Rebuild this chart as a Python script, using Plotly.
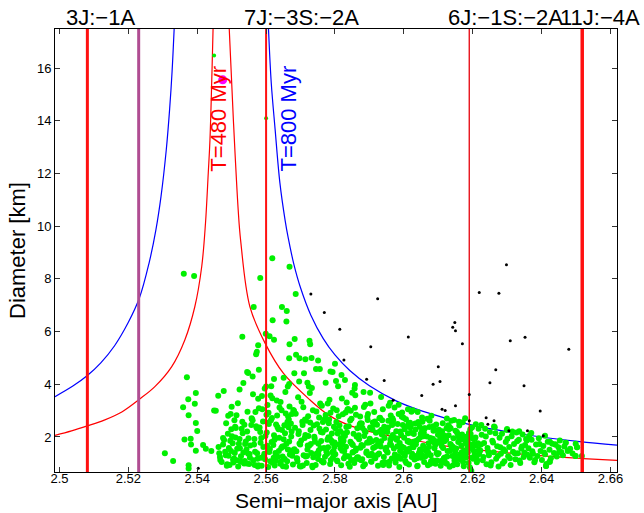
import plotly.graph_objects as go

# ---------------- axis ranges / ticks ----------------
x_range = [2.4987, 2.6619]
y_range = [0.67, 17.48]
x_ticks = [2.50, 2.52, 2.54, 2.56, 2.58, 2.60, 2.62, 2.64, 2.66]
x_tick_labels = ["2.5", "2.52", "2.54", "2.56", "2.58", "2.6", "2.62", "2.64", "2.66"]
y_ticks = [2, 4, 6, 8, 10, 12, 14, 16]
y_tick_labels = ["2", "4", "6", "8", "10", "12", "14", "16"]

# ---------------- resonances ----------------
res_a = [2.5081, 2.5230, 2.5600, 2.6190, 2.6518]
res_labels = ["3J:\u22121A", "", "7J:\u22123S:\u22122A", "6J:\u22121S:\u22122A", "11J:\u22124A"]
res_colors = ["#ff1010", "#b04d92", "#ff1010", "#e8141c", "#ff1010"]
res_widths = [3, 3, 2, 1.4, 3.5]

# ---------------- Yarkovsky curves ----------------
red_left_a = [2.4987, 2.5035, 2.5081, 2.5130, 2.5181, 2.5232, 2.5277, 2.5326, 2.5364,
              2.5393, 2.5413, 2.5424, 2.5432, 2.5437, 2.5446]
red_left_d = [2.06, 2.23, 2.42, 2.64, 2.95, 3.43, 3.91, 4.67, 5.68,
              6.94, 8.46, 10.11, 12.0, 13.27, 17.48]
red_right_a = [2.5493, 2.5505, 2.5519, 2.5526, 2.5553, 2.5597, 2.5650, 2.5727, 2.5785,
               2.5850, 2.5930, 2.6000, 2.6124, 2.6221, 2.6415, 2.6521, 2.6619]
red_right_d = [17.48, 14.03, 10.61, 9.47, 6.94, 5.56, 4.42, 3.41, 2.80,
               2.40, 2.12, 1.95, 1.65, 1.50, 1.27, 1.18, 1.11]
blue_left_a = [2.4987, 2.5040, 2.5081, 2.5120, 2.5160, 2.5200, 2.5232, 2.5260, 2.5280,
               2.5295, 2.5310, 2.5320, 2.5327, 2.5333]
blue_left_d = [3.53, 3.94, 4.33, 4.81, 5.46, 6.35, 7.27, 8.59, 9.86,
               11.14, 12.88, 14.46, 15.87, 17.48]
blue_right_a = [2.5607, 2.5615, 2.5626, 2.5640, 2.5655, 2.5664, 2.5680, 2.5700, 2.5730,
                2.5766, 2.5800, 2.5843, 2.5900, 2.5979, 2.6056, 2.6192, 2.6318, 2.6420,
                2.6511, 2.6619]
blue_right_d = [17.48, 15.43, 13.70, 11.65, 10.24, 9.57, 8.59, 7.66, 6.62,
                5.73, 5.11, 4.52, 3.94, 3.36, 2.97, 2.47, 2.16, 1.96,
                1.82, 1.69]

curve_labels = ["T=480 Myr", "T=800 Myr"]
curve_label_a = [2.5461, 2.5664]
curve_label_d = [12.0, 12.0]

# ---------------- family members (green) ----------------
green_a_sparse = [2.5361, 2.5391, 2.5370, 2.5396, 2.5374, 2.5359, 2.5393, 2.5375, 2.5396, 2.5400,
                  2.5363, 2.5381, 2.5382, 2.5396, 2.5417, 2.5425, 2.5441, 2.5449, 2.5306, 2.5330,
                  2.5375, 2.5375, 2.5618, 2.5668, 2.5583, 2.5686, 2.5564, 2.5646, 2.5660, 2.5619,
                  2.5659, 2.5599, 2.5610, 2.5623, 2.5531, 2.5683, 2.5726, 2.5728, 2.5577, 2.5668,
                  2.5573, 2.5571, 2.5687, 2.5697, 2.5667, 2.5714, 2.5732, 2.5751, 2.5800, 2.5579,
                  2.5545, 2.5548, 2.5756, 2.5745, 2.5710, 2.5793, 2.5561, 2.5623, 2.5651, 2.5682,
                  2.5667, 2.5663, 2.5696, 2.5720, 2.5724, 2.5773, 2.5600, 2.5523, 2.5461, 2.5477,
                  2.5534, 2.5500, 2.5454, 2.5490, 2.5514, 2.5510, 2.5475, 2.5464, 2.5467, 2.5787,
                  2.5829, 2.5858, 2.5902, 2.5934, 2.5960, 2.5985, 2.6012, 2.6040, 2.6080, 2.6125,
                  2.6160, 2.6225, 2.6262, 2.6300, 2.6335, 2.6370, 2.6410, 2.6424, 2.6470, 2.6499,
                  2.6503, 2.6476, 2.6498, 2.6413, 2.6423, 2.6440]
green_d_sparse = [8.19, 8.11, 4.27, 3.67, 3.43, 3.13, 3.26, 2.82, 2.53, 2.23,
                  1.90, 1.93, 1.71, 1.48, 1.69, 1.55, 1.47, 3.00, 1.38, 1.09,
                  0.93, 0.80, 8.78, 8.46, 8.03, 7.42, 6.93, 6.93, 6.78, 6.43,
                  6.38, 5.92, 5.82, 5.69, 5.80, 5.72, 5.65, 5.52, 5.48, 5.52,
                  5.23, 5.14, 5.12, 4.99, 4.99, 4.95, 5.00, 4.90, 4.78, 4.55,
                  4.46, 4.43, 4.58, 4.58, 4.42, 4.46, 4.29, 4.20, 4.25, 4.42,
                  4.01, 3.91, 4.10, 4.06, 3.91, 4.06, 3.91, 3.80, 3.56, 3.74,
                  4.05, 3.15, 2.99, 2.80, 2.82, 2.39, 1.96, 1.38, 1.13, 4.48,
                  4.16, 3.97, 3.68, 3.52, 3.30, 3.22, 3.05, 2.95, 2.80, 2.70,
                  2.58, 2.45, 2.40, 2.30, 2.22, 2.15, 2.05, 1.82, 1.78, 1.74,
                  1.61, 1.48, 1.28, 0.90, 1.06, 1.71]

green_a_band1 = [2.5462, 2.5471, 2.5478, 2.5483, 2.5489, 2.5494, 2.5498, 2.5503, 2.5507, 2.5512,
                 2.5516, 2.5519, 2.5523, 2.5527, 2.5531, 2.5534, 2.5538, 2.5541, 2.5545, 2.5548,
                 2.5551, 2.5554, 2.5557, 2.5466, 2.5475, 2.5486, 2.5492, 2.5501, 2.5509, 2.5515,
                 2.5521, 2.5529, 2.5536, 2.5543, 2.5549, 2.5553, 2.5559, 2.5481, 2.5496, 2.5505]
green_d_band1 = [1.62, 1.05, 1.88, 1.31, 2.12, 0.94, 1.47, 1.76, 1.18, 2.34,
                 1.55, 0.88, 1.92, 1.27, 2.58, 1.41, 1.09, 1.83, 2.21, 1.36,
                 0.97, 1.68, 2.45, 1.24, 1.71, 0.91, 1.58, 2.03, 1.39, 1.12,
                 1.74, 2.31, 0.99, 1.52, 1.95, 1.21, 2.67, 1.44, 1.86, 1.03]

green_a_band2 = [2.5563, 2.5571, 2.5578, 2.5584, 2.5589, 2.5595, 2.5602, 2.5606, 2.5611, 2.5617,
                 2.5622, 2.5626, 2.5631, 2.5637, 2.5641, 2.5646, 2.5652, 2.5657, 2.5661, 2.5667,
                 2.5672, 2.5676, 2.5565, 2.5569, 2.5575, 2.5581, 2.5587, 2.5592, 2.5598, 2.5604,
                 2.5609, 2.5614, 2.5619, 2.5624, 2.5629, 2.5634, 2.5639, 2.5644, 2.5649, 2.5655,
                 2.5659, 2.5664, 2.5669, 2.5674, 2.5678, 2.5561, 2.5574, 2.5586, 2.5597, 2.5608,
                 2.5613, 2.5621, 2.5633, 2.5643, 2.5651, 2.5662, 2.5671, 2.5679, 2.5567, 2.5583,
                 2.5593, 2.5601, 2.5616, 2.5628, 2.5636, 2.5647, 2.5658, 2.5666, 2.5677, 2.5577]
green_d_band2 = [1.12, 2.41, 0.93, 1.78, 3.05, 1.36, 2.17, 0.86, 1.54, 2.72,
                 1.21, 1.93, 3.38, 1.47, 0.98, 2.26, 1.65, 2.89, 1.08, 1.83,
                 2.51, 1.29, 1.71, 2.95, 1.17, 2.36, 0.91, 1.62, 2.04, 3.21,
                 1.43, 2.63, 1.02, 1.88, 2.47, 1.25, 3.12, 1.58, 0.89, 2.14,
                 1.74, 2.78, 1.33, 2.21, 0.95, 2.63, 1.38, 1.96, 1.15, 2.49,
                 3.57, 1.69, 2.38, 1.06, 1.91, 2.57, 1.49, 3.02, 0.94, 2.19,
                 1.27, 2.84, 1.81, 1.11, 2.29, 1.64, 0.87, 2.66, 1.41, 3.45]

green_a_band3 = [2.5682, 2.5686, 2.5691, 2.5695, 2.5699, 2.5703, 2.5707, 2.5712, 2.5716, 2.5719,
                 2.5723, 2.5727, 2.5731, 2.5735, 2.5738, 2.5742, 2.5746, 2.5751, 2.5755, 2.5758,
                 2.5762, 2.5766, 2.5771, 2.5775, 2.5778, 2.5782, 2.5786, 2.5791, 2.5795, 2.5798,
                 2.5684, 2.5689, 2.5693, 2.5697, 2.5701, 2.5705, 2.5709, 2.5714, 2.5718, 2.5722,
                 2.5725, 2.5729, 2.5733, 2.5737, 2.5741, 2.5744, 2.5748, 2.5753, 2.5757, 2.5761,
                 2.5764, 2.5768, 2.5773, 2.5777, 2.5781, 2.5784, 2.5788, 2.5793, 2.5797, 2.5681,
                 2.5688, 2.5694, 2.5702, 2.5708, 2.5715, 2.5721, 2.5728, 2.5734, 2.5740, 2.5747,
                 2.5754, 2.5760, 2.5767, 2.5774, 2.5780, 2.5787, 2.5794, 2.5799, 2.5690, 2.5706,
                 2.5720, 2.5736, 2.5752, 2.5769, 2.5785, 2.5698, 2.5730, 2.5763, 2.5792, 2.5713]
green_d_band3 = [1.53, 2.88, 1.07, 2.22, 1.71, 3.34, 0.92, 1.96, 2.61, 1.28,
                 2.04, 3.67, 1.39, 0.85, 2.43, 1.82, 2.97, 1.16, 2.31, 1.57,
                 3.18, 1.03, 2.69, 1.44, 1.89, 2.52, 0.97, 2.13, 3.08, 1.62,
                 2.35, 1.19, 3.51, 1.75, 0.88, 2.58, 1.31, 2.07, 1.01, 2.79,
                 1.67, 2.26, 3.86, 1.23, 1.94, 0.94, 2.48, 1.49, 3.27, 1.09,
                 2.17, 1.58, 2.83, 1.35, 1.99, 3.41, 1.13, 1.77, 2.39, 2.99,
                 1.46, 2.11, 1.87, 3.13, 1.26, 1.68, 2.55, 0.91, 2.01, 1.37,
                 2.74, 1.85, 1.05, 2.28, 1.61, 2.92, 1.22, 1.79, 1.18, 2.45,
                 1.52, 3.01, 1.33, 2.64, 1.95, 0.89, 1.73, 2.19, 1.42, 2.66]

green_a_band4 = [2.5801, 2.5804, 2.5807, 2.5809, 2.5812, 2.5815, 2.5818, 2.5821, 2.5823, 2.5826,
                 2.5829, 2.5832, 2.5834, 2.5837, 2.5840, 2.5843, 2.5845, 2.5848, 2.5851, 2.5854,
                 2.5856, 2.5859, 2.5862, 2.5865, 2.5867, 2.5870, 2.5873, 2.5876, 2.5878, 2.5881,
                 2.5884, 2.5887, 2.5889, 2.5892, 2.5895, 2.5898, 2.5900, 2.5903, 2.5906, 2.5909,
                 2.5911, 2.5914, 2.5917, 2.5920, 2.5922, 2.5925, 2.5928, 2.5931, 2.5933, 2.5936,
                 2.5939, 2.5942, 2.5944, 2.5947, 2.5802, 2.5806, 2.5811, 2.5816, 2.5820, 2.5825,
                 2.5830, 2.5835, 2.5839, 2.5844, 2.5849, 2.5853, 2.5858, 2.5863, 2.5868, 2.5872,
                 2.5877, 2.5882, 2.5886, 2.5891, 2.5896, 2.5901, 2.5905, 2.5910, 2.5915, 2.5919,
                 2.5924, 2.5929, 2.5934, 2.5938, 2.5943, 2.5948, 2.5803, 2.5813, 2.5822, 2.5831,
                 2.5841, 2.5850, 2.5860, 2.5869, 2.5879, 2.5888, 2.5897, 2.5907, 2.5916, 2.5926,
                 2.5935, 2.5945, 2.5808, 2.5827, 2.5846, 2.5864, 2.5883, 2.5902, 2.5921, 2.5940,
                 2.5817, 2.5836, 2.5855, 2.5874, 2.5893, 2.5912, 2.5930, 2.5949, 2.5819, 2.5857]
green_d_band4 = [1.34, 2.57, 1.08, 3.92, 1.71, 2.23, 0.93, 1.48, 2.86, 1.19,
                 2.04, 1.63, 3.31, 1.27, 2.41, 0.87, 1.82, 2.69, 1.41, 2.12,
                 1.01, 3.58, 1.56, 2.33, 1.23, 1.91, 2.78, 1.12, 2.51, 1.67,
                 3.14, 0.96, 2.19, 1.45, 2.64, 1.31, 1.79, 3.27, 1.06, 2.28,
                 1.58, 2.95, 1.19, 1.88, 2.46, 0.91, 1.37, 2.73, 1.64, 2.09,
                 3.05, 1.24, 1.96, 1.52, 2.31, 1.11, 2.79, 1.57, 3.46, 1.86,
                 1.29, 2.18, 0.98, 2.62, 1.74, 1.43, 3.11, 2.01, 1.16, 2.47,
                 1.69, 0.89, 2.24, 1.39, 2.87, 1.93, 1.07, 2.55, 1.61, 2.16,
                 1.32, 2.71, 1.84, 1.02, 2.39, 1.54, 4.12, 2.44, 1.72, 2.93,
                 1.26, 3.68, 1.49, 2.06, 1.15, 3.22, 1.81, 1.36, 2.59, 1.72,
                 2.27, 1.04, 2.13, 1.47, 2.99, 1.22, 3.71, 2.36, 1.66, 0.94,
                 1.95, 3.03, 1.13, 2.52, 1.78, 1.28, 2.21, 1.59, 4.35, 3.84]

green_a_band5 = [2.5951, 2.5954, 2.5957, 2.5960, 2.5962, 2.5965, 2.5968, 2.5971, 2.5973, 2.5976,
                 2.5979, 2.5982, 2.5984, 2.5987, 2.5990, 2.5993, 2.5995, 2.5998, 2.6001, 2.6004,
                 2.6006, 2.6009, 2.6012, 2.6015, 2.6017, 2.6020, 2.6023, 2.6026, 2.6028, 2.6031,
                 2.6034, 2.6037, 2.6039, 2.6042, 2.6045, 2.6048, 2.6050, 2.6053, 2.6056, 2.6059,
                 2.6061, 2.6064, 2.6067, 2.6070, 2.6072, 2.6075, 2.6078, 2.6081, 2.6083, 2.6086,
                 2.6089, 2.6092, 2.6094, 2.6097, 2.5952, 2.5958, 2.5963, 2.5969, 2.5974, 2.5980,
                 2.5985, 2.5991, 2.5996, 2.6002, 2.6007, 2.6013, 2.6018, 2.6024, 2.6029, 2.6035,
                 2.6040, 2.6046, 2.6051, 2.6057, 2.6062, 2.6068, 2.6073, 2.6079, 2.6084, 2.6090,
                 2.6095, 2.6099, 2.5956, 2.5966, 2.5977, 2.5988, 2.5999, 2.6010, 2.6021, 2.6032,
                 2.6043, 2.6054, 2.6065, 2.6076, 2.6087, 2.6098, 2.5961, 2.5983, 2.6005, 2.6027,
                 2.6049, 2.6071, 2.6093, 2.5972, 2.5994, 2.6016, 2.6038, 2.6060, 2.6082, 2.5967,
                 2.5989, 2.6011, 2.6033, 2.6055, 2.6077, 2.6096, 2.5978, 2.6000, 2.6022, 2.6044]
green_d_band5 = [1.45, 2.36, 0.92, 1.73, 2.81, 1.18, 2.07, 1.56, 3.12, 1.03,
                 1.89, 2.49, 1.27, 0.86, 2.21, 1.64, 2.93, 1.38, 1.97, 1.09,
                 2.67, 1.51, 2.14, 0.95, 1.79, 2.42, 1.24, 3.01, 1.61, 1.14,
                 2.28, 1.86, 0.89, 2.57, 1.42, 1.99, 1.21, 2.74, 1.67, 1.05,
                 2.33, 1.48, 2.02, 0.93, 1.76, 2.61, 1.31, 1.91, 1.12, 2.24,
                 1.57, 0.98, 2.47, 1.83, 2.19, 1.06, 1.69, 2.63, 1.33, 1.94,
                 2.87, 1.17, 1.61, 2.29, 1.01, 1.85, 2.54, 1.36, 2.11, 1.72,
                 0.91, 2.39, 1.49, 2.03, 1.26, 2.69, 1.62, 1.08, 1.93, 2.27,
                 1.39, 2.08, 3.18, 2.45, 1.15, 1.77, 2.73, 1.44, 2.16, 1.28,
                 1.92, 2.58, 1.53, 0.97, 1.81, 1.34, 1.88, 1.23, 2.38, 1.66,
                 2.12, 1.41, 1.74, 1.97, 2.77, 1.55, 1.19, 2.32, 1.02, 2.71,
                 1.47, 1.83, 2.51, 1.29, 1.96, 1.11, 2.22, 1.59, 2.96, 1.37]

green_a_band6 = [2.6101, 2.6104, 2.6107, 2.6110, 2.6113, 2.6116, 2.6118, 2.6121, 2.6124, 2.6127,
                 2.6130, 2.6133, 2.6135, 2.6138, 2.6141, 2.6144, 2.6147, 2.6150, 2.6152, 2.6155,
                 2.6158, 2.6161, 2.6164, 2.6167, 2.6169, 2.6172, 2.6175, 2.6178, 2.6181, 2.6184,
                 2.6186, 2.6189, 2.6192, 2.6195, 2.6198, 2.6201, 2.6203, 2.6206, 2.6209, 2.6212,
                 2.6215, 2.6218, 2.6102, 2.6108, 2.6114, 2.6120, 2.6126, 2.6132, 2.6137, 2.6143,
                 2.6149, 2.6154, 2.6160, 2.6166, 2.6171, 2.6177, 2.6183, 2.6188, 2.6194, 2.6200,
                 2.6205, 2.6211, 2.6217, 2.6106, 2.6117, 2.6129, 2.6140, 2.6151, 2.6163, 2.6174,
                 2.6185, 2.6208, 2.6196, 2.6219, 2.6111, 2.6134, 2.6157, 2.6180, 2.6202, 2.6123,
                 2.6146, 2.6168, 2.6191, 2.6213, 2.6139, 2.6179, 2.6197, 2.6156, 2.6125, 2.6210]
green_d_band6 = [1.38, 2.17, 0.91, 1.66, 2.52, 1.19, 1.84, 1.02, 2.33, 1.47,
                 2.06, 0.87, 1.73, 2.61, 1.28, 1.95, 1.11, 2.24, 1.56, 0.96,
                 1.81, 2.43, 1.34, 1.67, 2.09, 1.05, 1.49, 2.71, 1.22, 1.88,
                 1.41, 2.15, 0.84, 1.62, 2.36, 1.17, 1.93, 1.32, 2.48, 1.04,
                 1.76, 1.51, 2.27, 1.09, 1.58, 2.02, 1.26, 2.39, 1.69, 0.93,
                 1.44, 2.19, 1.85, 1.14, 2.56, 1.37, 1.71, 1.01, 2.11, 1.53,
                 1.92, 1.25, 2.31, 1.79, 1.07, 2.44, 1.63, 1.29, 2.05, 0.89,
                 1.55, 1.98, 0.72, 1.35, 2.22, 1.47, 1.16, 2.01, 1.72, 1.89,
                 2.64, 1.42, 1.99, 1.13, 1.61, 1.81, 1.21, 2.12, 0.98, 1.68]

green_a_band7 = [2.6222, 2.6226, 2.6229, 2.6233, 2.6236, 2.6240, 2.6243, 2.6247, 2.6250, 2.6254,
                 2.6257, 2.6261, 2.6264, 2.6268, 2.6271, 2.6275, 2.6278, 2.6282, 2.6285, 2.6289,
                 2.6292, 2.6296, 2.6299, 2.6303, 2.6306, 2.6310, 2.6313, 2.6317, 2.6320, 2.6324,
                 2.6327, 2.6331, 2.6334, 2.6338, 2.6341, 2.6345, 2.6348, 2.6352, 2.6355, 2.6358,
                 2.6224, 2.6231, 2.6238, 2.6245, 2.6252, 2.6259, 2.6266, 2.6273, 2.6280, 2.6287,
                 2.6294, 2.6301, 2.6308, 2.6315, 2.6322, 2.6329, 2.6336, 2.6343, 2.6350, 2.6357]
green_d_band7 = [1.49, 2.08, 1.12, 1.77, 2.31, 0.96, 1.58, 1.31, 2.19, 1.04,
                 1.86, 1.42, 2.37, 1.17, 1.65, 0.88, 1.97, 1.36, 2.12, 1.53,
                 1.08, 1.81, 2.26, 1.27, 1.62, 0.94, 2.03, 1.44, 1.73, 1.15,
                 2.17, 1.38, 1.89, 1.01, 1.56, 2.09, 1.24, 1.69, 1.92, 1.33,
                 1.71, 1.24, 2.02, 1.45, 0.92, 1.79, 2.14, 1.28, 1.61, 0.99,
                 1.47, 1.93, 1.19, 2.21, 1.38, 1.84, 1.11, 1.64, 1.41, 1.87]

green_a_band8 = [2.6362, 2.6366, 2.6371, 2.6375, 2.6379, 2.6384, 2.6388, 2.6392, 2.6397, 2.6401,
                 2.6405, 2.6410, 2.6414, 2.6418, 2.6423, 2.6427, 2.6431, 2.6436, 2.6440, 2.6444,
                 2.6449, 2.6453, 2.6457, 2.6462, 2.6466, 2.6470, 2.6476, 2.6483, 2.6490, 2.6499,
                 2.6503, 2.6517, 2.6364, 2.6373, 2.6381, 2.6394, 2.6407, 2.6413, 2.6424, 2.6451]
green_d_band8 = [1.57, 1.21, 1.89, 1.36, 1.04, 1.71, 1.28, 1.95, 1.47, 1.13,
                 1.66, 1.34, 0.97, 1.82, 1.51, 1.19, 1.74, 1.39, 1.71, 1.26,
                 1.61, 1.87, 1.43, 1.31, 1.64, 1.78, 1.48, 1.55, 1.37, 1.28,
                 1.61, 1.28, 2.04, 1.46, 1.13, 1.73, 1.41, 0.90, 1.06, 1.43]

green_a_band9 = [2.5484, 2.5491, 2.5497, 2.5504, 2.5511, 2.5518, 2.5524, 2.5532, 2.5539, 2.5546,
                 2.5552, 2.5558, 2.5562, 2.5568, 2.5573, 2.5579, 2.5585, 2.5591, 2.5596, 2.5603,
                 2.5607, 2.5612, 2.5618, 2.5623, 2.5627, 2.5632, 2.5638, 2.5642, 2.5648, 2.5653,
                 2.5656, 2.5663, 2.5668, 2.5673, 2.5487, 2.5508, 2.5526, 2.5544, 2.5566, 2.5588,
                 2.5605, 2.5625, 2.5645, 2.5665, 2.5499, 2.5537, 2.5576, 2.5615, 2.5654, 2.5675]
green_d_band9 = [2.52, 1.29, 2.87, 1.14, 1.98, 3.28, 1.57, 2.14, 1.73, 2.96,
                 1.35, 2.71, 3.62, 1.44, 2.33, 3.09, 1.21, 2.59, 3.84, 1.67,
                 2.92, 1.08, 3.47, 2.06, 1.39, 2.81, 1.97, 3.33, 1.26, 2.44,
                 3.71, 1.52, 3.16, 2.02, 0.96, 2.63, 1.06, 0.99, 1.92, 3.55,
                 2.54, 0.92, 3.01, 2.37, 2.29, 2.46, 0.88, 3.92, 1.16, 2.87]

green_a_band10 = [2.5752, 2.5759, 2.5771, 2.5783, 2.5796, 2.5805, 2.5818, 2.5833, 2.5847, 2.5861,
                  2.5874, 2.5885, 2.5899, 2.5913, 2.5927, 2.5941, 2.5953, 2.5966, 2.5981, 2.5992,
                  2.6003, 2.6019, 2.6030, 2.6047, 2.6058, 2.6069, 2.6085, 2.6091, 2.6106, 2.6119,
                  2.6131, 2.6145, 2.6159, 2.6173, 2.6187, 2.6199, 2.5765, 2.5790, 2.5824, 2.5852,
                  2.5880, 2.5908, 2.5937, 2.5964, 2.5997, 2.6025, 2.6053, 2.6088, 2.6115, 2.6142,
                  2.6170, 2.6204, 2.5779, 2.5838, 2.5894, 2.5955, 2.6014, 2.6074, 2.6136, 2.6193]
green_d_band10 = [1.74, 2.19, 1.25, 2.66, 1.47, 3.01, 1.86, 2.38, 1.13, 2.84,
                  1.59, 2.04, 1.31, 2.47, 1.78, 2.22, 1.41, 2.53, 1.65, 2.09,
                  1.29, 2.36, 1.83, 1.52, 2.17, 1.33, 2.41, 1.69, 1.96, 1.22,
                  2.29, 1.58, 2.01, 1.27, 1.76, 1.94, 2.57, 1.86, 2.13, 1.69,
                  2.34, 1.84, 2.63, 1.99, 2.45, 1.73, 2.25, 1.87, 2.07, 1.63,
                  1.91, 1.45, 3.27, 3.06, 2.77, 2.61, 2.52, 2.38, 2.33, 2.29]

green_small_a = [2.5449, 2.5600]
green_small_d = [16.47, 14.09]

# ---------------- background asteroids (black) ----------------
black_a = [2.5730, 2.5769, 2.5814, 2.5826, 2.5403, 2.6298, 2.5924, 2.6219, 2.6276, 2.6148,
           2.6142, 2.6150, 2.6013, 2.6309, 2.6352, 2.5904, 2.6170, 2.6100, 2.6267, 2.5892,
           2.5943, 2.6085, 2.6105, 2.6250, 2.6349, 2.6052, 2.6190, 2.5969, 2.6111, 2.6120,
           2.6150, 2.6239, 2.6262, 2.6244, 2.6190, 2.6305, 2.6359, 2.6479, 2.6396, 2.6405]
black_d = [7.42, 6.72, 6.09, 4.92, 0.81, 8.53, 7.24, 7.48, 7.45, 6.34,
           6.16, 6.03, 5.79, 5.65, 5.78, 5.42, 5.54, 4.66, 4.55, 4.19,
           4.14, 4.00, 4.10, 4.06, 3.94, 3.57, 3.61, 3.39, 3.05, 3.00,
           3.18, 2.73, 2.61, 2.48, 2.61, 2.24, 2.24, 5.33, 2.98, 2.05]

# ---------------- parent body (magenta) ----------------
parent_a = [2.5474]
parent_d = [15.55]

FONT = "Liberation Sans, Arial, Helvetica, sans-serif"
GREEN = "#00f000"

fig = go.Figure()

# curves
for xs, ys, col in [(red_left_a, red_left_d, "#ff0000"), (red_right_a, red_right_d, "#ff0000"),
                    (blue_left_a, blue_left_d, "#0000ff"), (blue_right_a, blue_right_d, "#0000ff")]:
    fig.add_trace(go.Scatter(x=xs, y=ys, mode="lines",
                             line=dict(color=col, width=1.2, shape="spline", smoothing=1.0),
                             hoverinfo="skip"))

# green family
green_a = (green_a_sparse + green_a_band1 + green_a_band2 + green_a_band3 + green_a_band4
           + green_a_band5 + green_a_band6 + green_a_band7 + green_a_band8 + green_a_band9
           + green_a_band10)
green_d = (green_d_sparse + green_d_band1 + green_d_band2 + green_d_band3 + green_d_band4
           + green_d_band5 + green_d_band6 + green_d_band7 + green_d_band8 + green_d_band9
           + green_d_band10)
fig.add_trace(go.Scatter(x=green_a, y=green_d, mode="markers",
                         marker=dict(color=GREEN, size=6, line=dict(width=0))))
fig.add_trace(go.Scatter(x=green_small_a, y=green_small_d, mode="markers",
                         marker=dict(color=GREEN, size=4, line=dict(width=0))))

# resonance lines
for a, c, w in zip(res_a, res_colors, res_widths):
    fig.add_trace(go.Scatter(x=[a, a], y=y_range, mode="lines", line=dict(color=c, width=w), hoverinfo="skip"))

# black background
fig.add_trace(go.Scatter(x=black_a, y=black_d, mode="markers",
                         marker=dict(color="black", size=3, line=dict(width=0))))

# parent
fig.add_trace(go.Scatter(x=parent_a, y=parent_d, mode="markers",
                         marker=dict(color="#ff00ff", size=9, line=dict(width=0))))

annotations = []
for a, lab in zip(res_a, res_labels):
    if lab:
        annotations.append(dict(x=a - 0.0069, y=1, xref="x", yref="paper", text=lab,
                                showarrow=False, xanchor="left", yanchor="bottom", yshift=-3,
                                font=dict(family=FONT, size=22, color="black")))
for lab, a, d, c in zip(curve_labels, curve_label_a, curve_label_d, ["#ff0000", "#0000ff"]):
    annotations.append(dict(x=a, y=d, xref="x", yref="y", text=lab, textangle=-90,
                            showarrow=False, xanchor="center", yanchor="bottom",
                            font=dict(family=FONT, size=22, color=c)))
annotations.append(dict(x=0.5, y=0, xref="paper", yref="paper", text="Semi\u2212major axis [AU]",
                        showarrow=False, xanchor="center", yanchor="bottom", yshift=-41,
                        borderpad=0, font=dict(family=FONT, size=21, color="black")))
annotations.append(dict(x=0, y=0.5, xref="paper", yref="paper", text="Diameter [km]", textangle=-90,
                        showarrow=False, xanchor="right", yanchor="middle", xshift=-23,
                        font=dict(family=FONT, size=22, color="black")))

fig.update_layout(
    width=644, height=513,
    margin=dict(l=55, r=27, t=29, b=41),
    paper_bgcolor="white", plot_bgcolor="white",
    showlegend=False,
    annotations=annotations,
    xaxis=dict(range=x_range, tickvals=x_ticks, ticktext=x_tick_labels, ticks="inside", ticklen=5,
               tickcolor="#333", showline=True, linecolor="black", linewidth=1, mirror="ticks",
               showgrid=False, zeroline=False, ticklabelstandoff=-6,
               tickfont=dict(family=FONT, size=13, color="black")),
    yaxis=dict(range=y_range, tickvals=y_ticks, ticktext=y_tick_labels, ticks="inside", ticklen=5,
               tickcolor="#333", showline=True, linecolor="black", linewidth=1, mirror="ticks",
               showgrid=False, zeroline=False, tickfont=dict(family=FONT, size=13, color="black")),
)

fig.write_html("out.html")
